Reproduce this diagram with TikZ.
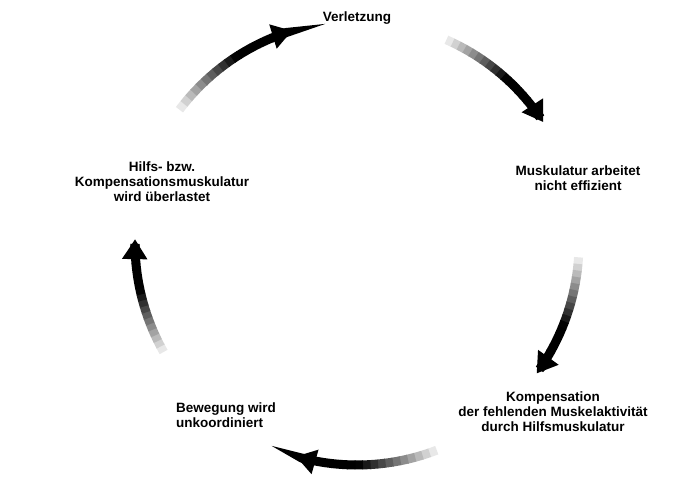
\documentclass[tikz,border=0pt]{standalone}
\usepackage{fontspec}
\setmainfont{Liberation Sans}
\usetikzlibrary{arrows.meta}

\tikzset{
  label/.style={font=\bfseries\fontsize{13.5}{15}\selectfont, align=center, inner sep=0pt},
  fadeseg/.style={line width=9pt, line cap=butt},
}

\begin{document}
\begin{tikzpicture}[x=1pt, y=1pt]
  \useasboundingbox (0,0) rectangle (700,479);
  \coordinate (c) at (357,236);
  % labels
  \node[label] (verl) at (357,461) {Verletzung};
  \node[label] (musk) at (578,301) {Muskulatur arbeitet\\nicht effizient};
  \node[label] (komp) at (553,67) {Kompensation\\der fehlenden Muskelaktivität\\durch Hilfsmuskulatur};
  \node[label, align=left] (bew) at (226,64) {Bewegung wird\\unkoordiniert};
  \node[label] (hilf) at (162,297) {Hilfs- bzw.\\Kompensationsmuskulatur\\wird überlastet};
  % fading arrows
  \foreach \a/\b in {145/107, 68/33, -2/-36, -67/-106, -149/-181} {
    \foreach \i in {0,...,18} {
      \pgfmathsetmacro\pct{min(100,\i*9)}
      \pgfmathsetmacro\sa{\a+(\b-\a)*\i/20}
      \pgfmathsetmacro\ea{\a+(\b-\a)*(\i+1.1)/20}
      \draw[fadeseg, black!\pct] ([shift={(c)}]\sa:222) arc[start angle=\sa, end angle=\ea, radius=222];
    }
    \pgfmathsetmacro\sa{\a+(\b-\a)*19/20}
    \draw[fadeseg, -{Triangle[length=20pt, width=24pt]}] ([shift={(c)}]\sa:222) arc[start angle=\sa, end angle=\b, radius=222];
  }
\end{tikzpicture}
\end{document}
